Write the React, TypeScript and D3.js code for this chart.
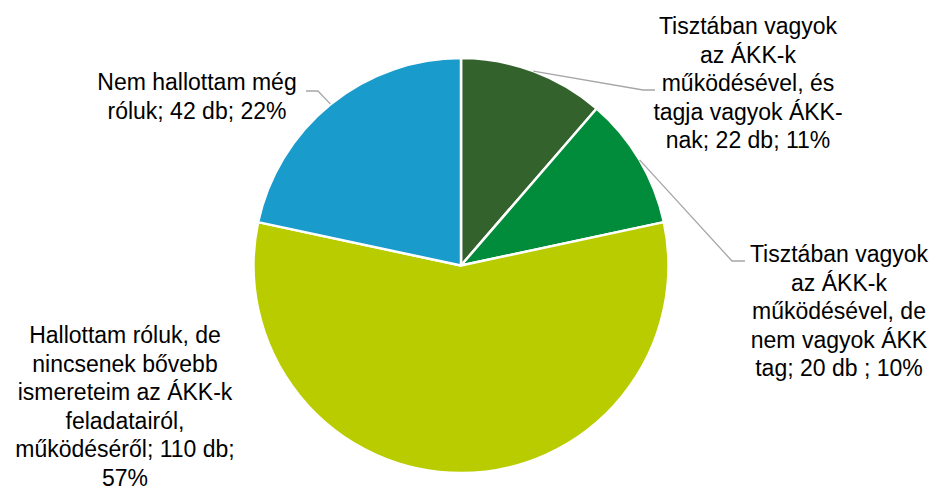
import React from 'react'
import * as d3 from 'd3'

const categories = [
  ['Tisztában vagyok', 'az ÁKK-k', 'működésével, és', 'tagja vagyok ÁKK-', 'nak; 22 db; 11%'],
  ['Tisztában vagyok', 'az ÁKK-k', 'működésével, de', 'nem vagyok ÁKK', 'tag; 20 db ; 10%'],
  ['Hallottam róluk, de', 'nincsenek bővebb', 'ismereteim az ÁKK-k', 'feladatairól,', 'működéséről; 110 db;', '57%'],
  ['Nem hallottam még', 'róluk; 42 db; 22%']
]
const values = [22, 20, 110, 42]
const colors = ['#34622c', '#008c3a', '#b9cc00', '#199bcc']

// label placement: text centre x, first baseline y, leader elbow (null = no line)
const labelLayout = [
  { x: 748, y: 34, elbow: [643, 90], end: 655 },
  { x: 839, y: 262, elbow: [732, 261], end: 745 },
  { x: 125, y: 343, elbow: null, end: 0 },
  { x: 197, y: 90, elbow: [318, 91], end: 306 }
]

const width = 936
const height = 489
const cx = 461
const cy = 265.5
const radius = 207.5
const lineHeight = 28.5

const App = () => {
  const pie = d3.pie<number>().sort(null).value(d => d)
  const arcs = pie(values)
  const arc = d3.arc<d3.PieArcDatum<number>>().innerRadius(0).outerRadius(radius)
  const edge = d3.arc<d3.PieArcDatum<number>>().innerRadius(radius).outerRadius(radius)

  return (
    <svg width={width} height={height} style={{ position: 'absolute', left: 0, top: 0 }}>
      <g transform={`translate(${cx},${cy})`}>
        {arcs.map((a, i) => (
          <path key={i} d={arc(a) || ''} fill={colors[i]} stroke='#fff' strokeWidth={2.5} strokeLinejoin='round' />
        ))}
      </g>
      {arcs.map((a, i) => {
        const l = labelLayout[i]
        if (!l.elbow) return null
        const [sx, sy] = edge.centroid(a)
        const pts = [[cx + sx, cy + sy], l.elbow, [l.end, l.elbow[1]]]
        return (
          <polyline key={i} points={pts.map(p => p.join(',')).join(' ')} fill='none' stroke='#a6a6a6' strokeWidth={1.3} />
        )
      })}
      {categories.map((lines, i) => (
        <text key={i} x={labelLayout[i].x} y={labelLayout[i].y} textAnchor='middle'
          fontFamily='"Liberation Sans", Arial, sans-serif' fontSize={23} fill='#000'>
          {lines.map((t, j) => (
            <tspan key={j} x={labelLayout[i].x} y={labelLayout[i].y + j * lineHeight}>{t}</tspan>
          ))}
        </text>
      ))}
    </svg>
  )
}

export default App
